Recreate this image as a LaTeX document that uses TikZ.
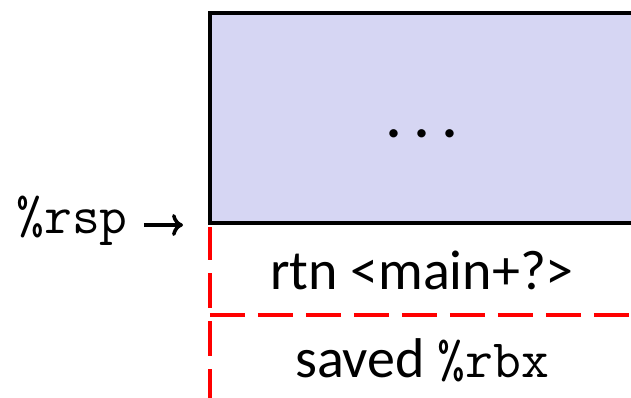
\documentclass[tikz,border=0pt]{standalone}
\usepackage{fontspec}
\setmainfont{Carlito}
\usetikzlibrary{arrows.meta,positioning}
\definecolor{stackfill}{RGB}{214,214,243}
\definecolor{dashred}{RGB}{255,0,0}
\newcommand{\regfont}{\ttfamily\fontsize{54}{60}\selectfont}

\begin{document}
\begin{tikzpicture}[x=1pt,y=-1pt
	,>={To[length=11pt,width=22pt]}
	,font=\fontsize{56}{64}\selectfont
	,node distance=0pt]
  \tikzstyle{frame}=[draw=black,line width=4pt,fill=stackfill,inner sep=0pt]
  \tikzstyle{slot}=[minimum width=424pt,minimum height=90pt,inner sep=0pt]
  \tikzstyle{reddash}=[draw=dashred,line width=4pt,dash pattern=on 35pt off 13pt]
  \useasboundingbox (0,0) rectangle (631,397);

  % caller's frame, cut at the right margin
  \node[frame,minimum width=424pt,minimum height=210pt
    ,text height=38pt,text depth=0pt] (caller) at (422,118)
    {\bfseries .\kern13pt.\kern13pt.};
  % slots below it
  \node[slot,below=of caller] (rtn)   {rtn <main+?>};
  \node[slot,below=of rtn]    (saved) {saved {\regfont\%rbx}};
  % stack pointer
  \node[anchor=base,inner sep=0pt] (rsp) at (72,233) {\regfont\%rsp};

  \path [reddash,shorten <=2pt,dash phase=2pt] (rtn.north west) edge (saved.south west);
  \path [reddash] (rtn.south west) edge (rtn.south east);
  \draw [->,line width=3.5pt,shorten <=16pt,shorten >=25pt]
    (rsp.east |- caller.south west) -- (caller.south west);
\end{tikzpicture}
\end{document}
